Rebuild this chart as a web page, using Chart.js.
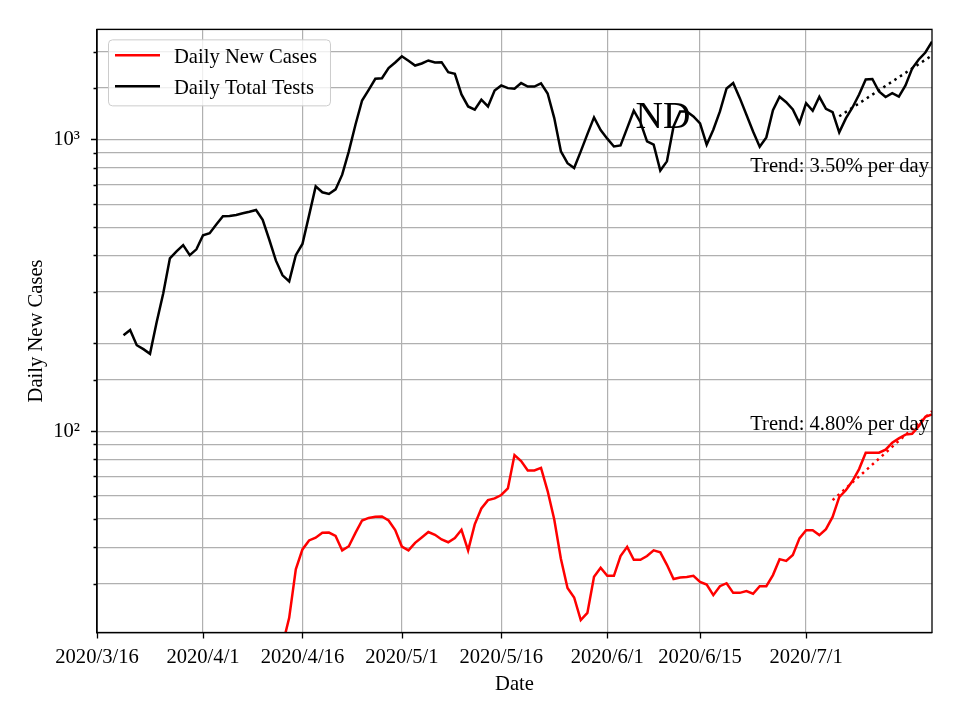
<!DOCTYPE html>
<html>
<head>
<meta charset="utf-8">
<title>ND Daily New Cases and Tests</title>
<script src="https://cdn.jsdelivr.net/npm/chart.js@4.4.0/dist/chart.umd.min.js"></script>
<style>
    body { margin: 0; background: #fff; }
</style>
</head>
<body>
<canvas id="ndChart" width="960" height="720"></canvas>
<script>
    // x axis runs in days from axisStart to axisEnd
    var axisStart = '2020/3/16';
    var axisEnd = '2020/7/20';
    var xTickLabels = ['2020/3/16', '2020/4/1', '2020/4/16', '2020/5/1', '2020/5/16', '2020/6/1', '2020/6/15', '2020/7/1'];

    var yMin = 20.4;
    var yMax = 2384;

    // one value per day, starting at testsStart
    var testsStart = '2020/3/20';
    var dailyTests = [
        213, 222, 197, 191, 184, 236, 297, 391, 413, 434, 401, 420, 469, 477, 511, 545, 546, 551, 558, 565,
        573, 530, 453, 384, 342, 326, 401, 438, 549, 690, 659, 650, 674, 757, 910, 1123, 1360, 1479, 1614, 1620,
        1755, 1835, 1928, 1860, 1792, 1821, 1865, 1835, 1840, 1700, 1679, 1426, 1297, 1264, 1368, 1297, 1472, 1531, 1499, 1492,
        1560, 1518, 1518, 1556, 1437, 1183, 910, 829, 798, 910, 1043, 1190, 1076, 1006, 946, 954, 1093, 1254, 1146, 984,
        959, 782, 841, 1108, 1247, 1247, 1199, 1135, 959, 1080, 1247, 1495, 1560, 1385, 1215, 1065, 944, 1016, 1260, 1400,
        1342, 1267, 1137, 1331, 1254, 1400, 1274, 1240, 1057, 1180, 1287, 1426, 1605, 1611, 1460, 1398, 1440, 1403, 1531, 1750,
        1879, 1986, 2165
    ];

    var casesStart = '2020/4/13';
    var dailyCases = [
        18.5, 22.9, 33.6, 39.3, 42.2, 43.1, 44.8, 44.9, 43.7, 39.0, 40.3, 44.8, 49.4, 50.4, 50.9, 51.0, 49.4, 45.8, 40.2, 39.0,
        41.4, 43.2, 45.1, 44.1, 42.5, 41.6, 43.0, 45.9, 39.0, 47.9, 54.3, 58.0, 58.8, 60.4, 63.6, 82.8, 79.0, 73.3, 73.3, 74.8,
        62.3, 49.8, 36.5, 29.0, 26.9, 22.5, 23.8, 31.7, 34.0, 31.9, 31.9, 37.3, 40.1, 36.2, 36.2, 37.3, 39.0, 38.4, 34.8, 31.1,
        31.5, 31.6, 31.9, 30.4, 29.8, 27.4, 29.4, 30.1, 27.9, 27.9, 28.3, 27.7, 29.4, 29.4, 32.1, 36.4, 35.9, 37.6, 42.9, 45.7,
        45.7, 44.0, 46.1, 50.8, 59.4, 62.7, 67.4, 74.1, 84.3, 84.3, 84.3, 86.4, 91.2, 94.4, 97.3, 97.9, 104, 112, 114
    ];

    // fitted trend lines (end points)
    var testsTrendDates = ['2020/7/6', '2020/7/20'];
    var testsTrend = [1200, 1940];
    var casesTrendDates = ['2020/7/5', '2020/7/20'];
    var casesTrend = [58, 117];

    var chartTitle = 'ND';
    var titleAt = [85.4, 1096];
    var testsTrendText = 'Trend: 3.50% per day';
    var testsTrendTextAt = [125.55, 773];
    var casesTrendText = 'Trend: 4.80% per day';
    var casesTrendTextAt = [125.55, 101];

    var serif = '"Liberation Serif", "Times New Roman", serif';

    function dayIndex(s) {
        var p = s.split('/').map(Number);
        var a = axisStart.split('/').map(Number);
        return Math.round((Date.UTC(p[0], p[1] - 1, p[2]) - Date.UTC(a[0], a[1] - 1, a[2])) / 864e5);
    }

    function series(start, values) {
        var d0 = dayIndex(start);
        return values.map(function (v, i) { return { x: d0 + i, y: v }; });
    }

    function pairs(dates, values) {
        return dates.map(function (d, i) { return { x: dayIndex(d), y: values[i] }; });
    }

    var xTickDays = xTickLabels.map(dayIndex);

    var decorations = {
        id: 'decorations',
        afterDraw: function (chart) {
            var ctx = chart.ctx, a = chart.chartArea;
            var xs = chart.scales.x, ys = chart.scales.y;
            ctx.save();

            // frame
            ctx.strokeStyle = '#000';
            ctx.lineWidth = 1.3;
            ctx.strokeRect(a.left, a.top, a.right - a.left, a.bottom - a.top);

            // tick marks
            ctx.beginPath();
            xs.ticks.forEach(function (t) {
                var px = Math.round(xs.getPixelForValue(t.value)) + 0.5;
                ctx.moveTo(px, a.bottom);
                ctx.lineTo(px, a.bottom + 6);
            });
            ys.ticks.forEach(function (t) {
                if (t.value <= yMin || t.value >= yMax) return;
                var lg = Math.log10(t.value);
                var len = Math.abs(lg - Math.round(lg)) < 1e-6 ? 6 : 3.5;
                var py = Math.round(ys.getPixelForValue(t.value)) + 0.5;
                ctx.moveTo(a.left, py);
                ctx.lineTo(a.left - len, py);
            });
            ctx.stroke();

            // annotations
            ctx.fillStyle = '#000';
            ctx.textBaseline = 'alphabetic';
            ctx.font = '38px ' + serif;
            ctx.textAlign = 'center';
            ctx.fillText(chartTitle, xs.getPixelForValue(titleAt[0]), ys.getPixelForValue(titleAt[1]));
            ctx.font = '20.6px ' + serif;
            ctx.textAlign = 'right';
            ctx.fillText(testsTrendText, xs.getPixelForValue(testsTrendTextAt[0]), ys.getPixelForValue(testsTrendTextAt[1]));
            ctx.fillText(casesTrendText, xs.getPixelForValue(casesTrendTextAt[0]), ys.getPixelForValue(casesTrendTextAt[1]));

            // legend, upper left
            var items = chart.data.datasets.filter(function (d) { return d.inLegend; });
            var bx = a.left + 11, by = a.top + 10;
            var tw = 0;
            items.forEach(function (d) { tw = Math.max(tw, ctx.measureText(d.label).width); });
            var bw = 77 + tw + 2, bh = 66;
            ctx.beginPath();
            ctx.roundRect(bx + 0.5, by + 0.5, bw, bh, 4);
            ctx.fillStyle = 'rgba(255,255,255,0.8)';
            ctx.fill();
            ctx.strokeStyle = '#cccccc';
            ctx.lineWidth = 1;
            ctx.stroke();
            ctx.textAlign = 'left';
            items.forEach(function (d, i) {
                var cy = by + 16 + i * 31;
                ctx.beginPath();
                ctx.strokeStyle = d.borderColor;
                ctx.lineWidth = 2.5;
                ctx.moveTo(bx + 7, cy);
                ctx.lineTo(bx + 52, cy);
                ctx.stroke();
                ctx.fillStyle = '#000';
                ctx.fillText(d.label, bx + 66, cy + 7.5);
            });
            ctx.restore();
        }
    };

    var ctx = document.getElementById('ndChart').getContext('2d');
    var chart = new Chart(ctx, {
        type: 'line',
        data: {
            datasets: [{
                label: 'Daily New Cases',
                inLegend: true,
                data: series(casesStart, dailyCases),
                borderColor: '#ff0000',
                borderWidth: 2.5,
                pointRadius: 0,
                tension: 0,
                clip: 0
            }, {
                label: 'Daily Total Tests',
                inLegend: true,
                data: series(testsStart, dailyTests),
                borderColor: '#000000',
                borderWidth: 2.5,
                pointRadius: 0,
                tension: 0,
                clip: 0
            }, {
                label: 'Cases trend',
                data: pairs(casesTrendDates, casesTrend),
                borderColor: '#ff0000',
                borderWidth: 2.5,
                borderDash: [2.5, 4.1],
                pointRadius: 0,
                clip: 0
            }, {
                label: 'Tests trend',
                data: pairs(testsTrendDates, testsTrend),
                borderColor: '#000000',
                borderWidth: 2.5,
                borderDash: [2.5, 4.1],
                pointRadius: 0,
                clip: 0
            }]
        },
        options: {
            responsive: false,
            animation: false,
            devicePixelRatio: 1,
            layout: { padding: { top: 28, right: 28, bottom: 0, left: 0 } },
            plugins: {
                legend: { display: false },
                tooltip: { enabled: false }
            },
            scales: {
                x: {
                    type: 'linear',
                    min: 0,
                    max: dayIndex(axisEnd),
                    afterBuildTicks: function (scale) {
                        scale.ticks = xTickDays.map(function (v) { return { value: v }; });
                    },
                    afterFit: function (scale) { scale.height = 87.5; },
                    ticks: {
                        autoSkip: false,
                        maxRotation: 0,
                        padding: 13,
                        color: '#000',
                        font: { family: serif, size: 20.6 },
                        callback: function (v, i) { return xTickLabels[i]; }
                    },
                    grid: { color: '#b0b0b0', lineWidth: 1.2, drawTicks: false },
                    border: { color: '#000', width: 1.3 },
                    title: {
                        display: true,
                        text: 'Date',
                        color: '#000',
                        font: { family: serif, size: 20.6 },
                        padding: { top: 0, bottom: 23 }
                    }
                },
                y: {
                    type: 'logarithmic',
                    min: yMin,
                    max: yMax,
                    afterFit: function (scale) { scale.width = 97; },
                    ticks: {
                        autoSkip: false,
                        padding: 17,
                        color: '#000',
                        font: { family: serif, size: 20.6 },
                        callback: function (v) {
                            if (Math.abs(v - 100) < 1e-6) return '10\u00b2';
                            if (Math.abs(v - 1000) < 1e-6) return '10\u00b3';
                            return '';
                        }
                    },
                    grid: { color: '#b0b0b0', lineWidth: 1.2, drawTicks: false },
                    border: { color: '#000', width: 1.3 },
                    title: {
                        display: true,
                        text: 'Daily New Cases',
                        color: '#000',
                        font: { family: serif, size: 20.6 },
                        padding: { top: 24, bottom: 0 }
                    }
                }
            }
        },
        plugins: [decorations]
    });
</script>
</body>
</html>
